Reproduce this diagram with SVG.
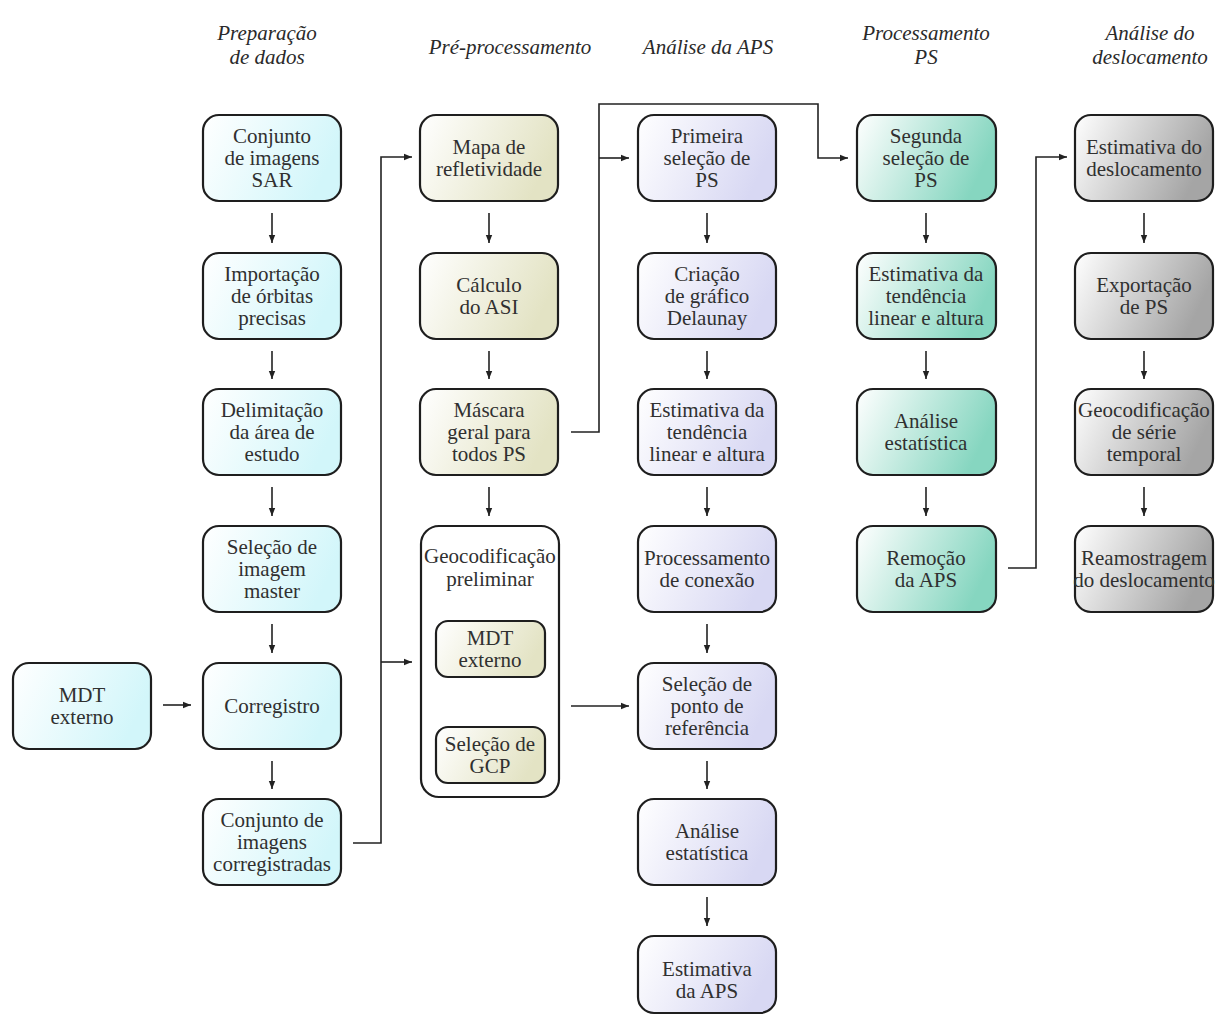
<svg xmlns="http://www.w3.org/2000/svg" width="1218" height="1017" viewBox="0 0 1218 1017" font-family="Liberation Serif, Times New Roman, serif">
  <defs>
    <linearGradient id="gCyan" x1="0" y1="0" x2="1" y2="0.3">
      <stop offset="0" stop-color="#ffffff"/>
      <stop offset="1" stop-color="#d2f6fa"/>
    </linearGradient>
    <linearGradient id="gBeige" x1="0" y1="0" x2="1" y2="0.3">
      <stop offset="0" stop-color="#ffffff"/>
      <stop offset="1" stop-color="#e3e3c4"/>
    </linearGradient>
    <linearGradient id="gLav" x1="0" y1="0" x2="1" y2="0.3">
      <stop offset="0" stop-color="#ffffff"/>
      <stop offset="1" stop-color="#d8d8f3"/>
    </linearGradient>
    <linearGradient id="gTeal" x1="0" y1="0" x2="1" y2="0.3">
      <stop offset="0" stop-color="#ffffff"/>
      <stop offset="1" stop-color="#86d6c0"/>
    </linearGradient>
    <linearGradient id="gGray" x1="0" y1="0" x2="1" y2="0.3">
      <stop offset="0" stop-color="#ffffff"/>
      <stop offset="1" stop-color="#a5a5a5"/>
    </linearGradient>
    <marker id="arr" viewBox="0 0 10 10" refX="10" refY="5" markerWidth="9" markerHeight="8" markerUnits="userSpaceOnUse" orient="auto">
      <path d="M0,1 L10,5 L0,9 Z" fill="#222"/>
    </marker>
    <style>
      .box { stroke: #1e1e1e; stroke-width: 2.2; }
      .c1 { fill: url(#gCyan); }
      .c2 { fill: url(#gBeige); }
      .c3 { fill: url(#gLav); }
      .c4 { fill: url(#gTeal); }
      .c5 { fill: url(#gGray); }
      .plain { fill: #ffffff; }
      text { font-family: "Liberation Serif", "Times New Roman", serif; fill: #303030; text-anchor: middle; }
      .lbl { font-size: 21px; }
      .hdr { font-size: 21px; font-style: italic; fill: #2a2a2a; }
      .con { fill: none; stroke: #222; stroke-width: 1.6; }
    </style>
  </defs>

  <!-- column headings -->
  <g id="headers">
    <text class="hdr" x="267" y="40">Preparação</text>
    <text class="hdr" x="267" y="64">de dados</text>
    <text class="hdr" x="510" y="54">Pré-processamento</text>
    <text class="hdr" x="708" y="54">Análise da APS</text>
    <text class="hdr" x="926" y="40">Processamento</text>
    <text class="hdr" x="926" y="64">PS</text>
    <text class="hdr" x="1150" y="40">Análise do</text>
    <text class="hdr" x="1150" y="64">deslocamento</text>
  </g>

  <!-- connectors -->
  <g id="connectors">
    <!-- column 1 vertical flow -->
    <line class="con" x1="272" y1="213" x2="272" y2="243" marker-end="url(#arr)"/>
    <line class="con" x1="272" y1="351" x2="272" y2="379" marker-end="url(#arr)"/>
    <line class="con" x1="272" y1="487" x2="272" y2="516" marker-end="url(#arr)"/>
    <line class="con" x1="272" y1="624" x2="272" y2="653" marker-end="url(#arr)"/>
    <line class="con" x1="272" y1="761" x2="272" y2="789" marker-end="url(#arr)"/>
    <line class="con" x1="163" y1="705" x2="191" y2="705" marker-end="url(#arr)"/>
    <!-- registered stack feeds pre-processing -->
    <polyline class="con" points="353,843 381,843 381,157 412,157" marker-end="url(#arr)"/>
    <line class="con" x1="381" y1="662" x2="412" y2="662" marker-end="url(#arr)"/>
    <!-- column 2 vertical flow -->
    <line class="con" x1="489" y1="213" x2="489" y2="243" marker-end="url(#arr)"/>
    <line class="con" x1="489" y1="351" x2="489" y2="379" marker-end="url(#arr)"/>
    <line class="con" x1="489" y1="487" x2="489" y2="516" marker-end="url(#arr)"/>
    <line class="con" x1="490" y1="686" x2="490" y2="716" marker-end="url(#arr)"/>
    <!-- mask to first and second PS selection -->
    <polyline class="con" points="571,432 599,432 599,104 818,104 818,158 848,158" marker-end="url(#arr)"/>
    <line class="con" x1="599" y1="158" x2="629" y2="158" marker-end="url(#arr)"/>
    <!-- geocoding to reference point -->
    <line class="con" x1="571" y1="706" x2="629" y2="706" marker-end="url(#arr)"/>
    <!-- column 3 vertical flow -->
    <line class="con" x1="707" y1="213" x2="707" y2="243" marker-end="url(#arr)"/>
    <line class="con" x1="707" y1="351" x2="707" y2="379" marker-end="url(#arr)"/>
    <line class="con" x1="707" y1="487" x2="707" y2="516" marker-end="url(#arr)"/>
    <line class="con" x1="707" y1="624" x2="707" y2="653" marker-end="url(#arr)"/>
    <line class="con" x1="707" y1="761" x2="707" y2="789" marker-end="url(#arr)"/>
    <line class="con" x1="707" y1="897" x2="707" y2="926" marker-end="url(#arr)"/>
    <!-- column 4 vertical flow -->
    <line class="con" x1="926" y1="213" x2="926" y2="243" marker-end="url(#arr)"/>
    <line class="con" x1="926" y1="351" x2="926" y2="379" marker-end="url(#arr)"/>
    <line class="con" x1="926" y1="487" x2="926" y2="516" marker-end="url(#arr)"/>
    <!-- APS removal to displacement -->
    <polyline class="con" points="1008,568 1036,568 1036,157 1067,157" marker-end="url(#arr)"/>
    <!-- column 5 vertical flow -->
    <line class="con" x1="1144" y1="213" x2="1144" y2="243" marker-end="url(#arr)"/>
    <line class="con" x1="1144" y1="351" x2="1144" y2="379" marker-end="url(#arr)"/>
    <line class="con" x1="1144" y1="487" x2="1144" y2="516" marker-end="url(#arr)"/>
  </g>

  <!-- column 1: data preparation -->
  <g id="n-conjunto-sar">
    <rect class="box c1" x="203" y="115" width="138" height="86" rx="16"/>
    <text class="lbl" x="272" y="143">Conjunto</text>
    <text class="lbl" x="272" y="165">de imagens</text>
    <text class="lbl" x="272" y="187">SAR</text>
  </g>
  <g id="n-orbitas">
    <rect class="box c1" x="203" y="253" width="138" height="86" rx="16"/>
    <text class="lbl" x="272" y="281">Importação</text>
    <text class="lbl" x="272" y="303">de órbitas</text>
    <text class="lbl" x="272" y="325">precisas</text>
  </g>
  <g id="n-delimitacao">
    <rect class="box c1" x="203" y="389" width="138" height="86" rx="16"/>
    <text class="lbl" x="272" y="417">Delimitação</text>
    <text class="lbl" x="272" y="439">da área de</text>
    <text class="lbl" x="272" y="461">estudo</text>
  </g>
  <g id="n-master">
    <rect class="box c1" x="203" y="526" width="138" height="86" rx="16"/>
    <text class="lbl" x="272" y="554">Seleção de</text>
    <text class="lbl" x="272" y="576">imagem</text>
    <text class="lbl" x="272" y="598">master</text>
  </g>
  <g id="n-corregistro">
    <rect class="box c1" x="203" y="663" width="138" height="86" rx="16"/>
    <text class="lbl" x="272" y="713">Corregistro</text>
  </g>
  <g id="n-corregistradas">
    <rect class="box c1" x="203" y="799" width="138" height="86" rx="16"/>
    <text class="lbl" x="272" y="827">Conjunto de</text>
    <text class="lbl" x="272" y="849">imagens</text>
    <text class="lbl" x="272" y="871">corregistradas</text>
  </g>
  <g id="n-mdt">
    <rect class="box c1" x="13" y="663" width="138" height="86" rx="16"/>
    <text class="lbl" x="82" y="702">MDT</text>
    <text class="lbl" x="82" y="724">externo</text>
  </g>

  <!-- column 2: pre-processing -->
  <g id="n-mapa">
    <rect class="box c2" x="420" y="115" width="138" height="86" rx="16"/>
    <text class="lbl" x="489" y="154">Mapa de</text>
    <text class="lbl" x="489" y="176">refletividade</text>
  </g>
  <g id="n-asi">
    <rect class="box c2" x="420" y="253" width="138" height="86" rx="16"/>
    <text class="lbl" x="489" y="292">Cálculo</text>
    <text class="lbl" x="489" y="314">do ASI</text>
  </g>
  <g id="n-mascara">
    <rect class="box c2" x="420" y="389" width="138" height="86" rx="16"/>
    <text class="lbl" x="489" y="417">Máscara</text>
    <text class="lbl" x="489" y="439">geral para</text>
    <text class="lbl" x="489" y="461">todos PS</text>
  </g>
  <g id="n-geocod-preliminar">
    <rect class="box plain" x="421" y="526" width="138" height="271" rx="18"/>
    <text class="lbl" x="490" y="563">Geocodificação</text>
    <text class="lbl" x="490" y="586">preliminar</text>
    <g id="n-mdt-interno">
      <rect class="box c2" x="436" y="621" width="109" height="56" rx="12"/>
      <text class="lbl" x="490" y="645">MDT</text>
      <text class="lbl" x="490" y="667">externo</text>
    </g>
    <g id="n-gcp">
      <rect class="box c2" x="436" y="727" width="109" height="56" rx="12"/>
      <text class="lbl" x="490" y="751">Seleção de</text>
      <text class="lbl" x="490" y="773">GCP</text>
    </g>
  </g>

  <!-- column 3: APS analysis -->
  <g id="n-primeira">
    <rect class="box c3" x="638" y="115" width="138" height="86" rx="16"/>
    <text class="lbl" x="707" y="143">Primeira</text>
    <text class="lbl" x="707" y="165">seleção de</text>
    <text class="lbl" x="707" y="187">PS</text>
  </g>
  <g id="n-delaunay">
    <rect class="box c3" x="638" y="253" width="138" height="86" rx="16"/>
    <text class="lbl" x="707" y="281">Criação</text>
    <text class="lbl" x="707" y="303">de gráfico</text>
    <text class="lbl" x="707" y="325">Delaunay</text>
  </g>
  <g id="n-tendencia-1">
    <rect class="box c3" x="638" y="389" width="138" height="86" rx="16"/>
    <text class="lbl" x="707" y="417">Estimativa da</text>
    <text class="lbl" x="707" y="439">tendência</text>
    <text class="lbl" x="707" y="461">linear e altura</text>
  </g>
  <g id="n-conexao">
    <rect class="box c3" x="638" y="526" width="138" height="86" rx="16"/>
    <text class="lbl" x="707" y="565">Processamento</text>
    <text class="lbl" x="707" y="587">de conexão</text>
  </g>
  <g id="n-referencia">
    <rect class="box c3" x="638" y="663" width="138" height="86" rx="16"/>
    <text class="lbl" x="707" y="691">Seleção de</text>
    <text class="lbl" x="707" y="713">ponto de</text>
    <text class="lbl" x="707" y="735">referência</text>
  </g>
  <g id="n-estatistica-1">
    <rect class="box c3" x="638" y="799" width="138" height="86" rx="16"/>
    <text class="lbl" x="707" y="838">Análise</text>
    <text class="lbl" x="707" y="860">estatística</text>
  </g>
  <g id="n-aps">
    <rect class="box c3" x="638" y="936" width="138" height="77" rx="16"/>
    <text class="lbl" x="707" y="976">Estimativa</text>
    <text class="lbl" x="707" y="998">da APS</text>
  </g>

  <!-- column 4: PS processing -->
  <g id="n-segunda">
    <rect class="box c4" x="857" y="115" width="139" height="86" rx="16"/>
    <text class="lbl" x="926" y="143">Segunda</text>
    <text class="lbl" x="926" y="165">seleção de</text>
    <text class="lbl" x="926" y="187">PS</text>
  </g>
  <g id="n-tendencia-2">
    <rect class="box c4" x="857" y="253" width="139" height="86" rx="16"/>
    <text class="lbl" x="926" y="281">Estimativa da</text>
    <text class="lbl" x="926" y="303">tendência</text>
    <text class="lbl" x="926" y="325">linear e altura</text>
  </g>
  <g id="n-estatistica-2">
    <rect class="box c4" x="857" y="389" width="139" height="86" rx="16"/>
    <text class="lbl" x="926" y="428">Análise</text>
    <text class="lbl" x="926" y="450">estatística</text>
  </g>
  <g id="n-remocao">
    <rect class="box c4" x="857" y="526" width="139" height="86" rx="16"/>
    <text class="lbl" x="926" y="565">Remoção</text>
    <text class="lbl" x="926" y="587">da APS</text>
  </g>

  <!-- column 5: displacement analysis -->
  <g id="n-deslocamento">
    <rect class="box c5" x="1075" y="115" width="138" height="86" rx="16"/>
    <text class="lbl" x="1144" y="154">Estimativa do</text>
    <text class="lbl" x="1144" y="176">deslocamento</text>
  </g>
  <g id="n-exportacao">
    <rect class="box c5" x="1075" y="253" width="138" height="86" rx="16"/>
    <text class="lbl" x="1144" y="292">Exportação</text>
    <text class="lbl" x="1144" y="314">de PS</text>
  </g>
  <g id="n-geocod-serie">
    <rect class="box c5" x="1075" y="389" width="138" height="86" rx="16"/>
    <text class="lbl" x="1144" y="417">Geocodificação</text>
    <text class="lbl" x="1144" y="439">de série</text>
    <text class="lbl" x="1144" y="461">temporal</text>
  </g>
  <g id="n-reamostragem">
    <rect class="box c5" x="1075" y="526" width="138" height="86" rx="16"/>
    <text class="lbl" x="1144" y="565">Reamostragem</text>
    <text class="lbl" x="1144" y="587">do deslocamento</text>
  </g>
</svg>
